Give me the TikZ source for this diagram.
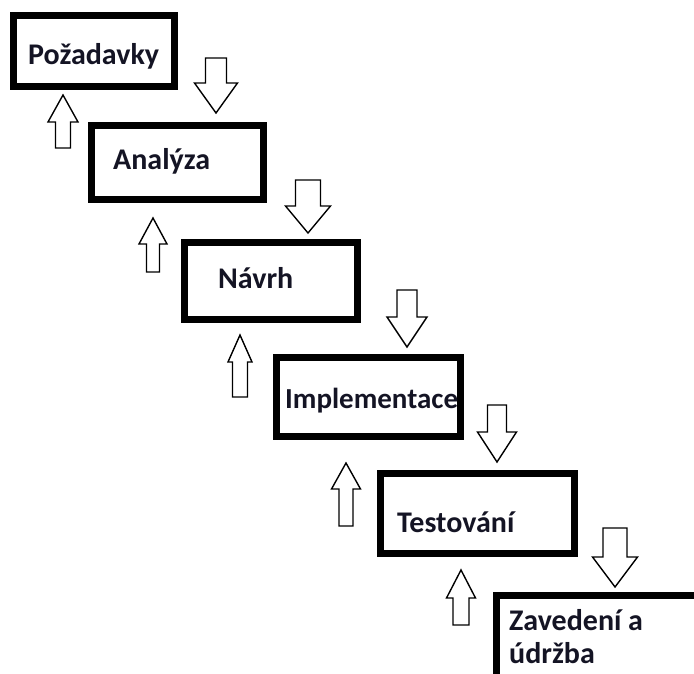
\documentclass[tikz,border=0pt]{standalone}
\usepackage{fontspec}
\setmainfont{Carlito}
\definecolor{inkblue}{RGB}{20,20,36}
\begin{document}
\begin{tikzpicture}[x=1pt,y=-1pt,
  stage/.style={draw=black, line width=7pt, fill=white, inner sep=0pt,
    outer sep=0pt, anchor=north west},
  label/.style={anchor=base west, inner sep=0pt, text=inkblue,
    font=\fontsize{30}{33}\selectfont\bfseries},
  arrowline/.style={draw=black, fill=white, line width=1.4pt, line join=miter},
  % hollow block arrow: shaft half width / head half width / head base offset / tip offset
  pics/blockarrow/.style args={#1/#2/#3/#4}{code={
    \draw[arrowline] (-#1,0) -- (#1,0) -- (#1,#3) -- (#2,#3) -- (0,#4)
      -- (-#2,#3) -- (-#1,#3) -- cycle;}}]
\useasboundingbox (0,0) rectangle (694,674);
\clip (0,0) rectangle (694,674);
\fill[white] (0,0) rectangle (694,674);

% stages of the process
\node[stage, minimum width=161, minimum height=71] (s1) at (13.5,15.5) {};
\node[stage, minimum width=172, minimum height=74] (s2) at (91.5,125.5) {};
\node[stage, minimum width=173, minimum height=77] (s3) at (184.5,242.5) {};
\node[stage, minimum width=184, minimum height=79] (s4) at (276.5,357.5) {};
\node[stage, minimum width=194, minimum height=80] (s5) at (380.5,473.5) {};
\node[stage, minimum width=220, minimum height=81.5] (s6) at (496.5,595.5) {};

\node[label] (t1) at (28,65) {Požadavky};
\node[label] (t2) at (113,170) {Analýza};
\node[label] (t3) at (218,288) {Návrh};
\node[label, font=\fontsize{29}{33}\selectfont\bfseries] (t4) at (285,408) {Implementace};
\node[label] (t5) at (397,532) {Testování};
\node[label] (t6a) at (509,630) {Zavedení a};
\node[label] (t6b) at (509,663) {údržba};

% forward arrows
\pic (d1) at (216,58)  {blockarrow={10.5/21.5/25/55}};
\pic (d2) at (308,180) {blockarrow={12.5/22.5/26/53}};
\pic (d3) at (407,290) {blockarrow={10/20/27/57}};
\pic (d4) at (497,405) {blockarrow={9.5/19.5/27/57}};
\pic (d5) at (615,528) {blockarrow={12/22.5/29/59}};

% feedback arrows
\pic (u1) at (63,148)  {blockarrow={7.5/15/-26/-53}};
\pic (u2) at (153,272) {blockarrow={6.5/14/-28/-54}};
\pic (u3) at (240,397) {blockarrow={7.5/12/-35/-62}};
\pic (u4) at (346,526) {blockarrow={7/14.5/-37/-63}};
\pic (u5) at (461,625) {blockarrow={8/14.5/-27/-55}};
\end{tikzpicture}
\end{document}
